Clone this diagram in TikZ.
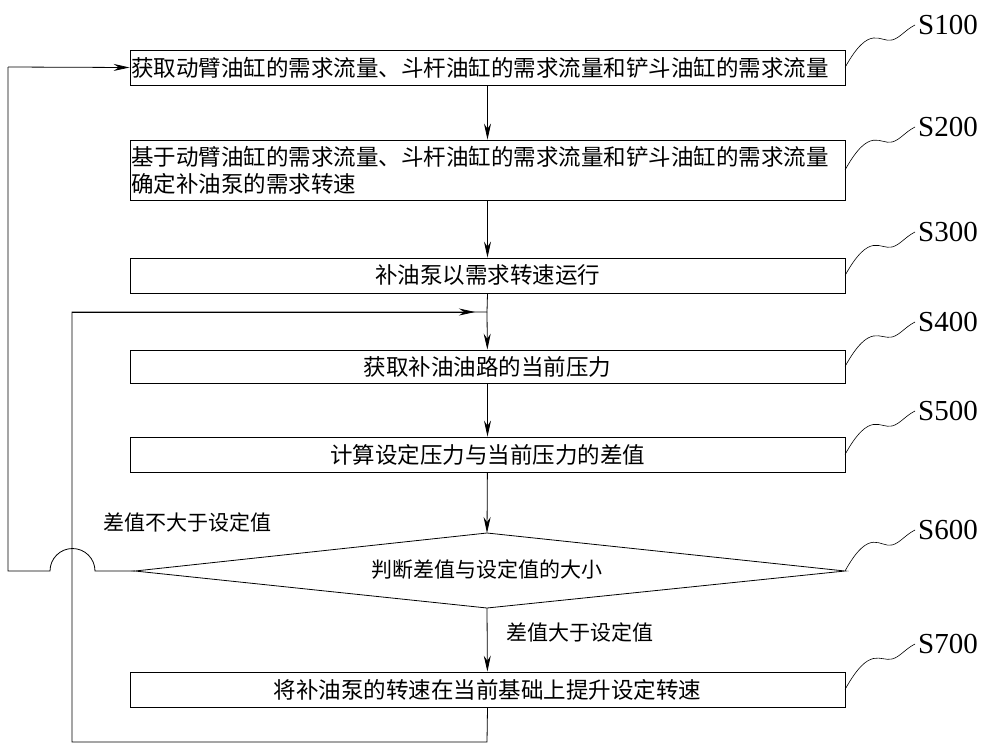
\documentclass[tikz,border=0pt]{standalone}
\usepackage{fontspec}
\setmainfont{Liberation Serif}
\newfontfamily\cjk{Noto Sans CJK SC}
\usetikzlibrary{arrows.meta}
\begin{document}
\begin{tikzpicture}[x=1pt,y=-1pt,
  bx/.style={draw,line width=0.8pt,minimum width=715pt,inner sep=0pt,font=\cjk\fontsize{22.5}{27}\selectfont},
  ar/.style={-{Stealth[length=16pt,width=7pt]},line width=0.8pt},
  ln/.style={line width=0.8pt},
  lab/.style={font=\fontsize{29}{29}\selectfont,anchor=west,inner sep=0pt},
  tx/.style={font=\cjk\fontsize{21}{24}\selectfont}]
\useasboundingbox (0,0) rectangle (1000,755);
\node[bx,minimum height=35pt,text width=713pt,align=left] (s1) at (487.5,67.5) {获取动臂油缸的需求流量、斗杆油缸的需求流量和铲斗油缸的需求流量};
\node[bx,minimum height=60pt,text width=713pt,align=left] (s2) at (487.5,170) {基于动臂油缸的需求流量、斗杆油缸的需求流量和铲斗油缸的需求流量\\确定补油泵的需求转速};
\node[bx,minimum height=35pt] (s3) at (487.5,275.5) {补油泵以需求转速运行};
\node[bx,minimum height=33pt] (s4) at (487.5,366.5) {获取补油油路的当前压力};
\node[bx,minimum height=35pt] (s5) at (487.5,454.5) {计算设定压力与当前压力的差值};
\coordinate (dt) at (487,533); \coordinate (db) at (487,608);
\coordinate (dl) at (135,571); \coordinate (dr) at (845,571);
\draw[ln] (dt)--(dr)--(db)--(dl)--cycle;
\node[tx] (dtext) at (487,569) {判断差值与设定值的大小};
\node[bx,minimum height=35pt] (s7) at (487.5,689.5) {将补油泵的转速在当前基础上提升设定转速};
\draw[ar] (s1)--(s2);
\draw[ar] (s2)--(s3);
\draw[ar] (s4)--(s5);
\draw[ar] (s5)--(dt);
\draw[ar] (db)--(s7);
\coordinate (j) at (487,312);
\draw[ln] (s3.south)--(j);
\draw[ar] (j)--(s4);
% left loop
\coordinate (c1) at (8,571); \coordinate (c2) at (8,67);
\draw[ln] (dl)--(95,571) arc[start angle=0,end angle=-180,radius=22.5]--(c1)--(c2);
\draw[ar] (c2)--(s1.west);
% loop 2
\coordinate (e1) at (487,742); \coordinate (e2) at (72,742); \coordinate (e3) at (72,312);
\draw[ln] (s7.south)--(e1)--(e2)--(e3)--(j);
\draw[ar] (e3)--(475,312);
\node[tx,anchor=west] (l1) at (100,522) {差值不大于设定值};
\node[tx,anchor=west] (l2) at (503,632) {差值大于设定值};
% labels
\foreach \n/\y/\yb in {s1/25/67.5,s2/127/170,s3/232/275.5,s4/322/366.5,s5/411/454.5,s7/644/689.5}{
  \draw[line width=0.6pt] (845,\yb) .. controls (870,\yb-45) and (880,\y+18) .. (892,\y+15) .. controls (900,\y+13) and (905,\y+5) .. (915,\y);
}
\draw[line width=0.6pt] (dr) .. controls (870,571-45) and (880,548) .. (892,545) .. controls (900,543) and (905,535) .. (915,530);
\node[lab] (L1) at (918,25) {S100};
\node[lab] (L2) at (918,127) {S200};
\node[lab] (L3) at (918,232) {S300};
\node[lab] (L4) at (918,322) {S400};
\node[lab] (L5) at (918,411) {S500};
\node[lab] (L6) at (918,530) {S600};
\node[lab] (L7) at (918,644) {S700};
\end{tikzpicture}
\end{document}
